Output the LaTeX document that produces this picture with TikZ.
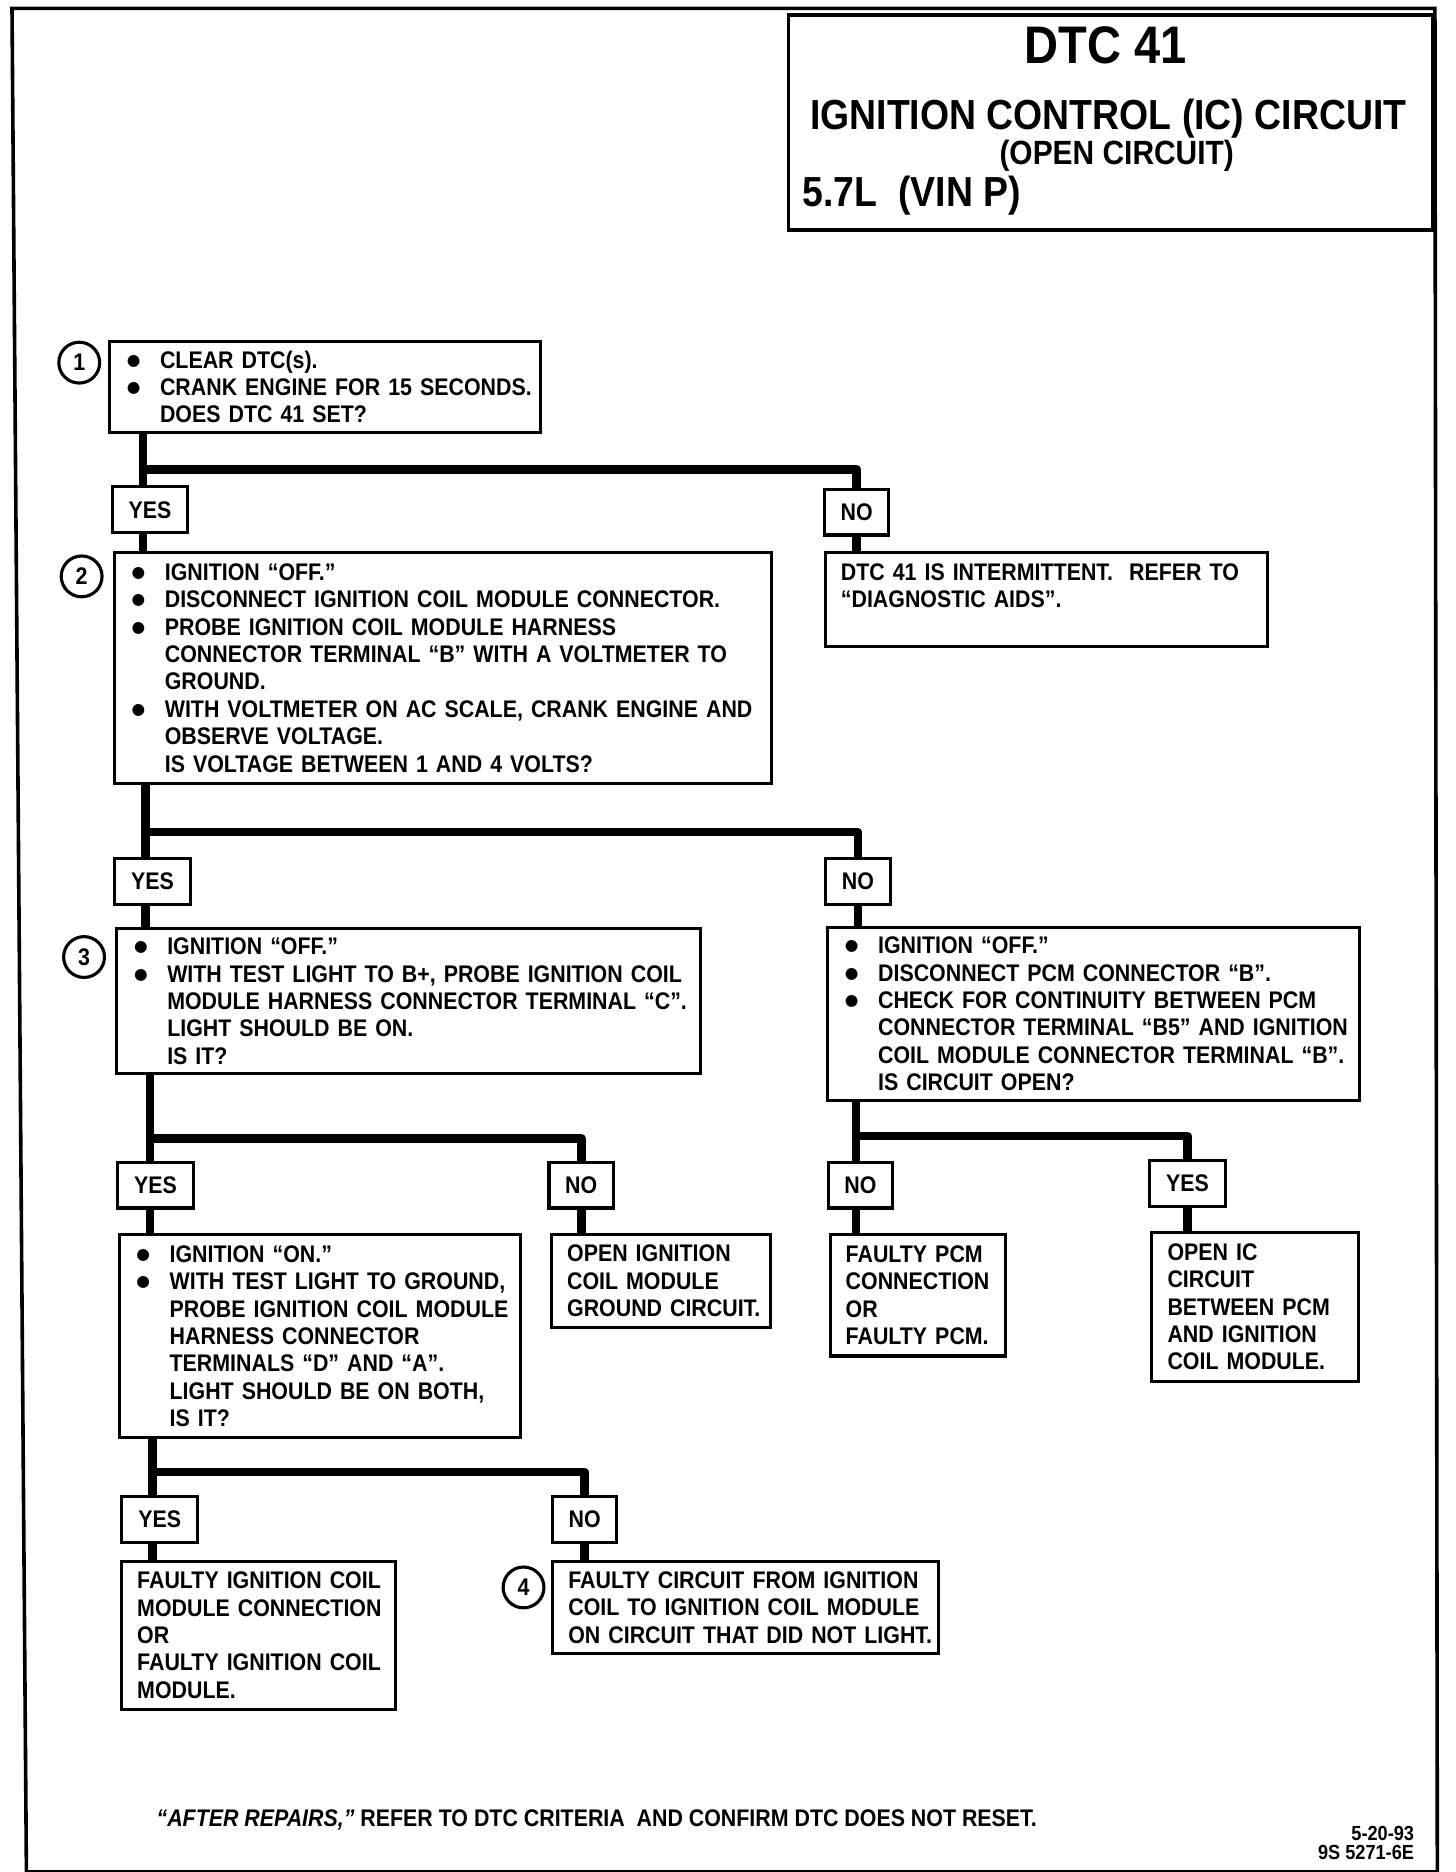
\documentclass[tikz,border=0pt]{standalone}
\usepackage{fontspec}
\setmainfont{Liberation Sans}[FakeStretch=0.89]
\newfontfamily\dotfont{DejaVu Sans}
\usetikzlibrary{positioning}

\newcommand{\bodyfont}{\fontsize{10}{11.4}\selectfont\bfseries}
\newcommand{\dotmark}{\raisebox{1.2pt}{\dotfont\fontsize{6.5}{6.5}\selectfont ●}}
\newcommand{\bl}[1]{\makebox[14.5pt][l]{\makebox[7pt]{\dotmark}}\mbox{#1}}
\newcommand{\cl}[1]{\hspace*{14.5pt}\mbox{#1}}

\begin{document}
\begin{tikzpicture}[x=0.5pt,y=-0.5pt,font=\bodyfont,
    box/.style={draw, line width=1.3pt, anchor=north west, align=left,
        inner xsep=6.5pt, inner ysep=0pt},
    ans/.style={draw, line width=1.3pt, minimum height=19pt, inner sep=0pt},
    yes/.style={ans, minimum width=31.5pt},
    no/.style={ans, minimum width=26.75pt},
    num/.style={draw, circle, line width=1.3pt, minimum size=17pt, inner sep=0pt},
    trunk/.style={line width=3.6pt, line join=round}]

\useasboundingbox (0,0) rectangle (1212,1559);

\draw[line width=1.5pt] (10,7) -- (1195,7) -- (1197,1559) -- (22,1559) -- cycle;

\node[draw, line width=1.5pt, anchor=north west,
    minimum width=268.5pt,
    minimum height=89.5pt
] (title) at (655,11) {};
\node[font=\fontsize{22}{24}\selectfont\bfseries] (dtc) at (921,38) {DTC 41};
\node[font=\fontsize{17.5}{19}\selectfont\bfseries] (circuit) at (923,99) {IGNITION CONTROL (IC) CIRCUIT};
\node[font=\fontsize{14}{16}\selectfont\bfseries] (open) at (930,130) {(OPEN CIRCUIT)};
\node[font=\fontsize{17.5}{19}\selectfont\bfseries, anchor=west, inner sep=0pt] (engine) at (668,163) {5.7L\ \ (VIN P)};

\node[box,
    text width=166.5pt,
    minimum height=38pt
] (b1) at (90,283) {\bl{CLEAR DTC(s).}\\
\bl{CRANK ENGINE FOR 15 SECONDS.}\\
\cl{DOES DTC 41 SET?}};
\node[num] (n1) at (66,302) {1};

\node[yes] (yes1) at (125,424.5) {YES};
\node[no] (no1) at (713.5,426.5) {NO};

\node[box,
    text width=260.5pt,
    minimum height=96pt
] (b2) at (94,459) {\bl{IGNITION “OFF.”}\\
\bl{DISCONNECT IGNITION COIL MODULE CONNECTOR.}\\
\bl{PROBE IGNITION COIL MODULE HARNESS}\\
\cl{CONNECTOR TERMINAL “B” WITH A VOLTMETER TO}\\
\cl{GROUND.}\\
\bl{WITH VOLTMETER ON AC SCALE, CRANK ENGINE AND}\\
\cl{OBSERVE VOLTAGE.}\\
\cl{IS VOLTAGE BETWEEN 1 AND 4 VOLTS?}};
\node[num] (n2) at (68,480) {2};

\node[box,
    text width=171pt,
    minimum height=39pt
] (r1) at (686,459) {\mbox{DTC 41 IS INTERMITTENT.\ \ REFER TO}\\
\mbox{“DIAGNOSTIC AIDS”.}\\
\mbox{}};

\node[yes] (yes2) at (127,734) {YES};
\node[no] (no2) at (714.5,734) {NO};

\node[box,
    text width=230pt,
    minimum height=60.5pt
] (b3) at (96,772) {\bl{IGNITION “OFF.”}\\
\bl{WITH TEST LIGHT TO B+, PROBE IGNITION COIL}\\
\cl{MODULE HARNESS CONNECTOR TERMINAL “C”.}\\
\cl{LIGHT SHOULD BE ON.}\\
\cl{IS IT?}};
\node[num] (n3) at (70,797) {3};

\node[box,
    text width=208.5pt,
    minimum height=72pt
] (r2) at (688,771) {\bl{IGNITION “OFF.”}\\
\bl{DISCONNECT PCM CONNECTOR “B”.}\\
\bl{CHECK FOR CONTINUITY BETWEEN PCM}\\
\cl{CONNECTOR TERMINAL “B5” AND IGNITION}\\
\cl{COIL MODULE CONNECTOR TERMINAL “B”.}\\
\cl{IS CIRCUIT OPEN?}};

\node[yes] (yes3) at (129.5,987) {YES};
\node[no] (no3) at (484,987) {NO};
\node[no] (no4) at (716.5,987) {NO};
\node[yes] (yes4) at (989,985.5) {YES};

\node[box,
    text width=154pt,
    minimum height=84.5pt
] (b4) at (98,1027) {\bl{IGNITION “ON.”}\\
\bl{WITH TEST LIGHT TO GROUND,}\\
\cl{PROBE IGNITION COIL MODULE}\\
\cl{HARNESS CONNECTOR}\\
\cl{TERMINALS “D” AND “A”.}\\
\cl{LIGHT SHOULD BE ON BOTH,}\\
\cl{IS IT?}};

\node[box,
    text width=78pt,
    minimum height=38.5pt
] (r3) at (458,1027) {\mbox{OPEN IGNITION}\\
\mbox{COIL MODULE}\\
\mbox{GROUND CIRCUIT.}};

\node[box,
    text width=60pt,
    minimum height=50.5pt
] (r4) at (690,1027) {\mbox{FAULTY PCM}\\
\mbox{CONNECTION}\\
OR\\
\mbox{FAULTY PCM.}};

\node[box,
    text width=73pt,
    minimum height=62pt
] (r5) at (958,1025) {\mbox{OPEN IC}\\
CIRCUIT\\
\mbox{BETWEEN PCM}\\
\mbox{AND IGNITION}\\
\mbox{COIL MODULE.}};

\node[yes] (yes5) at (133,1265.5) {YES};
\node[no] (no5) at (487,1265.5) {NO};

\node[box,
    text width=101pt,
    minimum height=61.5pt
] (r6) at (100,1299) {\mbox{FAULTY IGNITION COIL}\\
\mbox{MODULE CONNECTION}\\
OR\\
\mbox{FAULTY IGNITION COIL}\\
MODULE.};

\node[box,
    text width=147.5pt,
    minimum height=38.5pt
] (r7) at (459,1299) {\mbox{FAULTY CIRCUIT FROM IGNITION}\\
\mbox{COIL TO IGNITION COIL MODULE}\\
\mbox{ON CIRCUIT THAT DID NOT LIGHT.}};
\node[num] (n4) at (436,1322) {4};

\node[anchor=west, inner sep=0pt] (note) at (130,1516) {\textit{“AFTER REPAIRS,”} REFER TO DTC CRITERIA\ \ AND CONFIRM DTC DOES NOT RESET.};
\node[anchor=east, align=right, inner sep=0pt,
    font=\fontsize{8.5}{8}\selectfont\bfseries] (code) at (1178,1535) {5-20-93\\9S 5271-6E};

\coordinate (j1) at (119,391);
\coordinate (j2) at (121,693);
\coordinate (j3) at (125,948);
\coordinate (j4) at (713,946);
\coordinate (j5) at (127,1226);

\draw[trunk] (b1.south -| j1) -- (yes1.north -| j1);
\draw[trunk] (j1) -| (no1.north);
\draw[trunk] (yes1.south -| j1) -- (b2.north -| j1);
\draw[trunk] (no1.south) -- (no1.south |- r1.north);

\draw[trunk] (b2.south -| j2) -- (yes2.north -| j2);
\draw[trunk] (j2) -| (no2.north);
\draw[trunk] (yes2.south -| j2) -- (b3.north -| j2);
\draw[trunk] (no2.south) -- (no2.south |- r2.north);

\draw[trunk] (b3.south -| j3) -- (yes3.north -| j3);
\draw[trunk] (j3) -| (no3.north);
\draw[trunk] (yes3.south -| j3) -- (b4.north -| j3);
\draw[trunk] (no3.south) -- (no3.south |- r3.north);

\draw[trunk] (r2.south -| j4) -- (no4.north -| j4);
\draw[trunk] (j4) -| (yes4.north);
\draw[trunk] (no4.south -| j4) -- (r4.north -| j4);
\draw[trunk] (yes4.south) -- (yes4.south |- r5.north);

\draw[trunk] (b4.south -| j5) -- (yes5.north -| j5);
\draw[trunk] (j5) -| (no5.north);
\draw[trunk] (yes5.south -| j5) -- (r6.north -| j5);
\draw[trunk] (no5.south) -- (no5.south |- r7.north);

\end{tikzpicture}
\end{document}
